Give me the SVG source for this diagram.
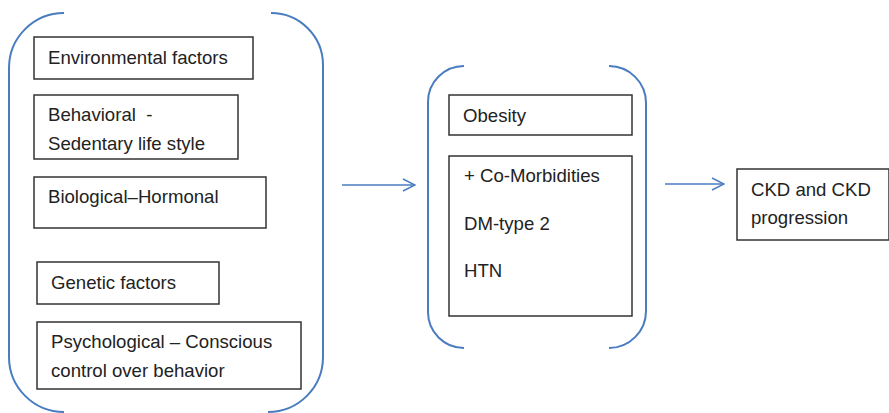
<svg xmlns="http://www.w3.org/2000/svg" width="889" height="413" viewBox="0 0 889 413">
<style>
.box{fill:#fff;stroke:#333;stroke-width:1.5}
.br{fill:none;stroke:#4a7cc0;stroke-width:2}
.t{font-family:"Liberation Sans",Arial,sans-serif;font-size:18.6px;fill:#222}
.ar{fill:none;stroke:#4a7cc0;stroke-width:1.5}
</style>
<defs>
<marker id="ah" markerWidth="14" markerHeight="14" refX="13" refY="7" orient="auto" markerUnits="userSpaceOnUse">
<path d="M1,1 L13,7 L1,13" fill="none" stroke="#4a7cc0" stroke-width="1.5"/>
</marker>
</defs>
<rect width="889" height="413" fill="#fff"/>
<g id="group-left">
<path class="br" d="M64,13 A55,55 0 0 0 9,68 V357 A55,55 0 0 0 64,412"/>
<path class="br" d="M271,13 A52,52 0 0 1 323,65 V357 A55,55 0 0 1 268,412"/>
</g>
<g id="group-middle">
<path class="br" d="M464,66 A36,36 0 0 0 428,102 V312 A36,36 0 0 0 464,348"/>
<path class="br" d="M609,66 A37,37 0 0 1 646,103 V311 A37,37 0 0 1 609,348"/>
</g>
<g id="env"><rect class="box" x="34" y="37" width="219" height="42"/><text class="t" x="48" y="64">Environmental factors</text></g>
<g id="behav"><rect class="box" x="34" y="95" width="204" height="64"/><text class="t" x="48" y="121">Behavioral &#160;-</text><text class="t" x="48" y="150">Sedentary life style</text></g>
<g id="bio"><rect class="box" x="34" y="177" width="232" height="51"/><text class="t" x="48" y="203">Biological–Hormonal</text></g>
<g id="gen"><rect class="box" x="37" y="262" width="182" height="42"/><text class="t" x="51" y="289">Genetic factors</text></g>
<g id="psych"><rect class="box" x="37" y="322" width="264" height="67"/><text class="t" x="51" y="348">Psychological – Conscious</text><text class="t" x="51" y="377">control over behavior</text></g>
<g id="obesity"><rect class="box" x="449" y="95" width="183" height="40"/><text class="t" x="463" y="122">Obesity</text></g>
<g id="comorb"><rect class="box" x="449" y="156" width="183" height="160"/><text class="t" x="464" y="182">+ Co-Morbidities</text><text class="t" x="464" y="230">DM-type 2</text><text class="t" x="464" y="277">HTN</text></g>
<g id="ckd"><rect class="box" x="737" y="169" width="152" height="71"/><text class="t" x="751" y="196">CKD and CKD</text><text class="t" x="751" y="224">progression</text></g>
<g id="connectors">
<line class="ar" x1="342" y1="185" x2="415" y2="185" marker-end="url(#ah)"/>
<line class="ar" x1="665" y1="184" x2="724" y2="184" marker-end="url(#ah)"/>
</g>
</svg>
